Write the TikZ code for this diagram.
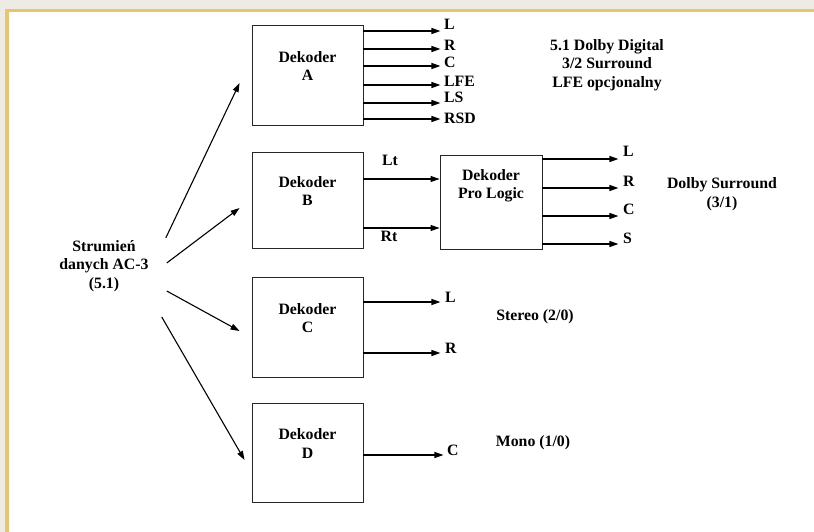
\documentclass[tikz,border=0pt]{standalone}
\usepackage{fontspec}
\setmainfont{Liberation Serif}
\usepackage{tikz}
\usetikzlibrary{arrows.meta,positioning}
\definecolor{pagecream}{RGB}{238,235,228}
\definecolor{framegold}{RGB}{232,196,112}
\tikzset{
    dec-box/.style = {draw=black!85, line width=0.9pt, rectangle, minimum width=111pt, minimum height=98pt, inner sep=0pt},
    dec-text/.style = {align=center},
    out-label/.style = {anchor=base west, inner sep=0pt},
    sig-arrow/.style = {line width=1.1pt, -{Triangle[length=9pt,width=6pt]}},
}

\begin{document}
\begin{tikzpicture}[x=1pt, y=-1pt, font=\fontsize{15.8}{18.5}\selectfont\bfseries]
% page with the frame on top and left
\fill[pagecream] (0,0) rectangle (814,532);
\fill[framegold] (5.3,9) rectangle (814,532);
\fill[white] (9.3,12.3) rectangle (814,532);
\useasboundingbox (0,0) rectangle (814,532);

% decoders
\node[dec-box, minimum height=100pt] (decA) at (307.5,75) {};
\node[dec-box, minimum height=96pt] (decB) at (307.5,200) {};
\node[dec-box, minimum height=100pt] (decC) at (307.5,327) {};
\node[dec-box, minimum height=99pt] (decD) at (307.5,452.5) {};
\node[dec-box, minimum width=102pt, minimum height=94pt] (pro) at (491,202) {};
\foreach \n in {A,B,C,D}
    \node[dec-text] (t\n) at ([yshift=9pt]dec\n.center) {Dekoder\\\n};
\node[dec-text] (tpro) at ([yshift=16pt]pro.center) {Dekoder\\Pro Logic};

% AC-3 stream and its four branches
\node[align=center, inner xsep=16pt] (stream) at (104,266) {Strumień\\danych AC-3\\(5.1)};
\draw[sig-arrow] ([shift={(1,-28)}]stream.east) -- ([shift={(-12,8)}]decA.west);
\draw[sig-arrow] ([shift={(2,-3)}]stream.east) -- ([shift={(-12,8)}]decB.west);
\draw[sig-arrow] ([shift={(2,25)}]stream.east) -- ([shift={(-12,4)}]decC.west);
\draw[sig-arrow] ([shift={(-3,51)}]stream.east) -- ([shift={(-7,7.5)}]decD.west);

% 5.1 outputs
\foreach \lab/\dy/\by [count=\i] in {L/44/30, R/26/51, C/9/68, LFE/-10/87, LS/-28/103, RSD/-44/124} {
    \draw[sig-arrow] ([yshift=\dy pt]decA.east) -- ++(77,0) coordinate (a\i);
    \node[out-label] (la\i) at (444,\by) {\lab};
}
\node[align=center] (dd) at (607,65) {5.1 Dolby Digital\\3/2 Surround\\LFE opcjonalny};

% matrix path Lt/Rt into Pro Logic
\draw[sig-arrow] ([yshift=21pt]decB.east) -- ([yshift=21pt]decB.east -| pro.west);
\draw[sig-arrow] ([yshift=-28pt]decB.east) -- ([yshift=-28pt]decB.east -| pro.west);
\node (lt) at (390,160) {Lt};
\node (rt) at (389,236) {Rt};
\foreach \lab/\dy/\by [count=\i] in {L/43/157, R/14/186, C/-14/214, S/-42/243} {
    \draw[sig-arrow] ([yshift=\dy pt]pro.east) -- ++(76,0) coordinate (p\i);
    \node[out-label] (lp\i) at (623,\by) {\lab};
}
\node[align=center] (ds) at (722,194) {Dolby Surround\\(3/1)};

% stereo
\foreach \lab/\dy/\by [count=\i] in {L/25/302, R/-26/353} {
    \draw[sig-arrow] ([yshift=\dy pt]decC.east) -- ++(77,0) coordinate (c\i);
    \node[out-label] (lc\i) at (445,\by) {\lab};
}
\node (st) at (535,317) {Stereo (2/0)};

% mono
\draw[sig-arrow] ([yshift=-2.5pt]decD.east) -- ++(80,0) coordinate (d1);
\node[out-label] (ld1) at (447,455) {C};
\node (mo) at (533,443) {Mono (1/0)};
\end{tikzpicture}
\end{document}
